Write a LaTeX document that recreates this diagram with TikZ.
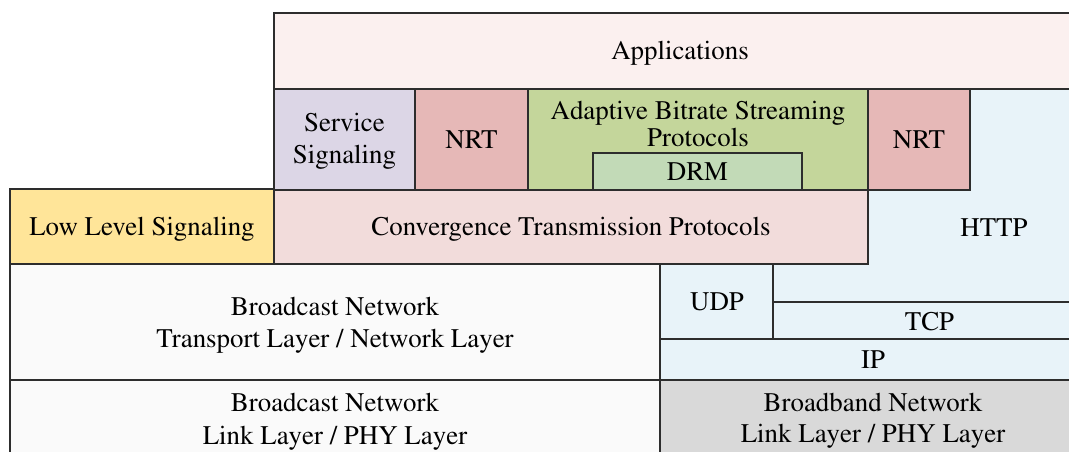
\documentclass[tikz,border=0pt]{standalone}
\usepackage[T1]{fontenc}
\usepackage{times}
\definecolor{appfill}{RGB}{251,240,239}
\definecolor{sigfill}{RGB}{220,214,230}
\definecolor{nrtfill}{RGB}{230,184,183}
\definecolor{abrfill}{RGB}{196,214,155}
\definecolor{drmfill}{RGB}{194,218,183}
\definecolor{convfill}{RGB}{242,220,219}
\definecolor{netfill}{RGB}{232,243,249}
\definecolor{llsfill}{RGB}{255,229,153}
\definecolor{bcfill}{RGB}{250,250,250}
\definecolor{bbfill}{RGB}{217,217,217}
\definecolor{edge}{RGB}{45,45,45}
\begin{document}
\begin{tikzpicture}[x=1pt,y=-1pt,
  layer/.style={draw=edge, line width=1.1pt},
  lbl/.style={inner sep=0pt, anchor=base, text=black,
    font=\fontsize{26.9pt}{32pt}\selectfont}]
\useasboundingbox (0,0) rectangle (1069,452);
\clip (0,0) rectangle (1069,452);

% HTTP region (L-shaped, behind the other layers)
\draw[layer, fill=netfill] (868,89) -- (1086,89) -- (1086,302) -- (773,302)
  -- (773,264) -- (868,264) -- cycle;

% upper layers
\draw[layer, fill=appfill] (274,13) rectangle (1086,89);
\draw[layer, fill=sigfill] (274,89) rectangle (415,190);
\draw[layer, fill=nrtfill] (415,89) rectangle (528,190);
\draw[layer, fill=abrfill] (528,89) rectangle (868,190);
\draw[layer, fill=drmfill] (593,153) rectangle (802,190);
\draw[layer, fill=nrtfill] (868,89) rectangle (970,190);
\draw[layer, fill=convfill] (274,190) rectangle (868,264);
\draw[layer, fill=llsfill] (10,189) rectangle (274,264);

% transport and network layers
\draw[layer, fill=netfill] (660,264) rectangle (773,339);
\draw[layer, fill=netfill] (773,302) rectangle (1086,339);
\draw[layer, fill=netfill] (660,339) rectangle (1086,380);
\draw[layer, fill=bcfill] (10,264) rectangle (660,380);

% link / physical layers
\draw[layer, fill=bcfill] (10,380) rectangle (660,460);
\draw[layer, fill=bbfill] (660,380) rectangle (1086,460);

% labels, placed on their baselines
\node[lbl] (app) at (680,59.3) {Applications};
\node[lbl] (sig) at (344.5,131.7) {Service};
\node[lbl] (sig-b) at (344.5,163.3) {Signaling};
\node[lbl] (nrt1) at (471.5,148.3) {NRT};
\node[lbl] (abr) at (698,119) {Adaptive Bitrate Streaming};
\node[lbl] (abr-b) at (698,146.7) {Protocols};
\node[lbl] (drm) at (697.5,180) {DRM};
\node[lbl] (nrt2) at (919,148.3) {NRT};
\node[lbl] (http) at (994,236.7) {HTTP};
\node[lbl] (conv) at (571,235) {Convergence Transmission Protocols};
\node[lbl] (lls) at (142,235) {Low Level Signaling};
\node[lbl] (udp) at (717,310.7) {UDP};
\node[lbl] (tcp) at (929.5,330) {TCP};
\node[lbl] (ip) at (873,368.3) {IP};
\node[lbl] (bcnet) at (335,315.7) {Broadcast Network};
\node[lbl] (bcnet-b) at (335,347) {Transport Layer / Network Layer};
\node[lbl] (bclink) at (335,411) {Broadcast Network};
\node[lbl] (bclink-b) at (335,444) {Link Layer / PHY Layer};
\node[lbl] (bblink) at (873,411.7) {Broadband Network};
\node[lbl] (bblink-b) at (873,442.7) {Link Layer / PHY Layer};
\end{tikzpicture}
\end{document}
